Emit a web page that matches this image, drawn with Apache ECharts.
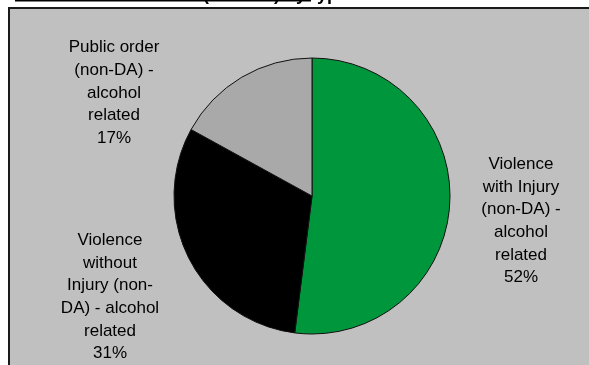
<!DOCTYPE html>
<html>
<head>
<meta charset="utf-8">
<script src="https://cdn.jsdelivr.net/npm/echarts@6/dist/echarts.min.js"></script>
<style>
  html, body { margin: 0; padding: 0; background: #ffffff; }
  #chart { width: 589px; height: 365px; }
</style>
</head>
<body>
<div id="chart"></div>
<script>
// Offence categories and their shares (%)
const categories = [
  'Violence\nwith Injury\n(non-DA) -\nalcohol\nrelated',
  'Violence\nwithout\nInjury (non-\nDA) - alcohol\nrelated',
  'Public order\n(non-DA) -\nalcohol\nrelated'
];
const shares = [52, 31, 17];
const sliceColors = ['#00963C', '#000000', '#A9A9A9'];

// Label centres for each slice, in pixels
const labelCentres = [[521, 221], [110, 297], [114, 93]];

const chart = echarts.init(document.getElementById('chart'), null, { renderer: 'canvas' });

chart.setOption({
  animation: false,
  graphic: [
    {
      type: 'rect',
      z: -10,
      shape: { x: 9, y: 8, width: 620, height: 400 },
      style: { fill: '#C0C0C0', stroke: '#1A1A1A', lineWidth: 2 }
    },
    {
      type: 'text',
      x: 15,
      y: 4,
      style: {
        text: 'Alcohol related crime (non-DA) by type',
        font: 'bold 18px "Liberation Sans", Arial, sans-serif',
        fill: '#000',
        verticalAlign: 'bottom'
      }
    },
    {
      type: 'line',
      shape: { x1: 15, y1: 0.5, x2: 311, y2: 0.5 },
      style: { stroke: '#000', lineWidth: 2 }
    }
  ],
  series: [{
    type: 'pie',
    center: [312, 196],
    radius: [0, 138],
    startAngle: 90,
    clockwise: true,
    data: categories.map((name, i) => ({
      name: name,
      value: shares[i],
      itemStyle: { color: sliceColors[i] }
    })),
    itemStyle: { borderColor: '#111', borderWidth: 1 },
    emphasis: { disabled: true },
    label: {
      show: true,
      position: 'outside',
      formatter: p => p.name + '\n' + p.value + '%',
      fontFamily: '"Liberation Sans", Arial, sans-serif',
      fontSize: 17,
      lineHeight: 22.7,
      color: '#000',
      align: 'center',
      overflow: 'none',
      width: 200
    },
    labelLine: { show: false },
    labelLayout: p => ({
      x: labelCentres[p.dataIndex][0],
      y: labelCentres[p.dataIndex][1],
      align: 'center',
      verticalAlign: 'middle'
    })
  }]
});
</script>
</body>
</html>
